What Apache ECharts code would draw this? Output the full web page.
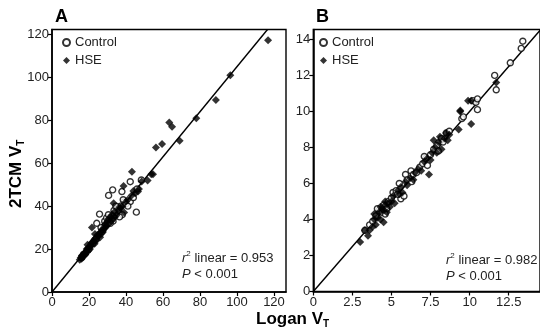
<!DOCTYPE html>
<html><head><meta charset="utf-8">
<script src="https://cdn.jsdelivr.net/npm/echarts@6/dist/echarts.min.js"></script>
<style>html,body{margin:0;padding:0;background:#fff}#c{width:540px;height:332px}</style>
</head><body><div id="c"></div>
<script>
// Panel A (Logan VT vs 2TCM VT)
var controlA = [[16,16],[17,17.5],[18,18],[19,19.5],[20,20],[21,22],[22,22.5],[23,24],[24,25],[24.2,32],[25.7,36.3],[26,27],[27,28],[28,30],[28.5,33],[29,31],[30,32],[30.6,45],[31,34],[32,35],[32.8,47.6],[33,33],[34,36],[35,37],[35.5,39],[36,38],[37,40],[37.8,46.8],[38,36],[39,42],[40,41],[42.3,42.1],[42.3,51.4],[45.6,37.2],[48.3,52.2],[46,48],[44,44],[33.5,38],[29.5,34.5],[27.5,29],[36.5,35],[31.5,32],[26.5,30],[30.5,36],[34.5,40],[38.5,43],[41,40]];
var hseA = [[15,15],[15.5,16],[16,15.5],[16.5,17],[17,16.5],[17.5,18],[18,17.5],[18.5,19],[19,18.5],[19.5,20],[20,21],[20.5,20],[21,21.5],[21.6,30],[22,23],[22.5,24],[23,22.5],[23.5,25],[24,24],[25,26],[25.5,27],[26,25.5],[27,29],[27.5,28],[28,29.5],[29,30],[29.5,31],[30,33],[31,32],[31.5,35],[32,33],[33,34],[33.3,41.4],[34,35],[35,36],[36,38],[37,39],[38,40],[38.7,49.4],[39,37],[40,42],[41,43],[43,45],[43.2,56],[44,47],[45,46],[46.5,46.8],[47,48],[48.5,51.5],[51.7,52],[53.7,54.9],[54.6,54.9],[56.2,67.3],[59.5,69],[63.4,79],[64.9,77],[69,70.5],[78,80.9],[88.6,89.4],[96.4,101],[116.8,117.3],[16.2,17],[18.8,20],[21.5,23],[24.5,26.5],[26.5,28],[28.5,31.5],[30.5,34],[32.5,36],[34,37.5],[36.5,39.5],[23.2,27],[19.2,22]];
var fitA = [[0,0],[116.5,122.3]];
var xTicksA = [0,20,40,60,80,100,120];
var yTicksA = [0,20,40,60,80,100,120];
// Panel B
var controlB = [[3.3,3.4],[3.6,3.7],[3.8,3.9],[4.0,4.2],[4.2,4.5],[4.4,4.4],[4.5,4.8],[4.7,4.6],[4.8,5.0],[5.0,5.2],[5.1,5.5],[5.3,5.6],[5.5,6.0],[5.6,5.15],[5.8,5.3],[5.9,6.5],[6.0,6.2],[6.25,6.7],[6.4,6.5],[6.6,6.6],[6.8,6.9],[7.0,7.1],[7.2,7.4],[7.3,7.0],[7.5,7.6],[7.7,7.9],[7.9,8.1],[8.0,7.8],[8.2,8.5],[8.3,8.3],[8.5,8.8],[8.7,8.9],[9.5,9.6],[9.6,9.7],[10.2,10.6],[10.4,10.5],[10.5,10.7],[10.5,10.1],[11.6,12.0],[11.7,11.2],[12.6,12.7],[13.3,13.5],[13.4,13.9],[6.3,6.1],[5.4,5.4],[4.6,4.3],[4.1,4.6],[7.1,7.5]];
var hseB = [[3.0,2.75],[3.3,3.4],[3.5,3.1],[3.6,3.4],[3.8,3.6],[3.9,4.0],[4.0,3.7],[4.1,4.1],[4.2,4.4],[4.3,4.0],[4.4,4.6],[4.5,3.85],[4.5,4.5],[4.6,4.8],[4.7,4.4],[4.8,4.9],[4.9,4.7],[5.0,5.0],[5.1,5.3],[5.2,4.9],[5.4,5.6],[5.5,5.4],[5.6,5.8],[5.7,5.5],[5.9,6.1],[6.0,5.9],[6.2,6.3],[6.4,6.2],[6.5,6.6],[6.7,6.8],[6.9,6.7],[7.1,7.2],[7.4,6.5],[7.3,7.4],[7.5,7.3],[7.6,7.7],[7.8,8.0],[7.9,7.7],[8.0,8.3],[8.1,8.6],[8.2,7.9],[8.4,8.5],[8.5,8.8],[8.6,8.4],[8.7,8.7],[9.3,9.0],[9.4,10.05],[9.4,10.0],[9.9,10.6],[10.1,10.6],[10.1,9.3],[11.7,11.6],[3.9,4.3],[4.3,4.7],[4.6,5.0],[7.7,8.4]];
var fitB = [[0,0],[14.6,14.6]];
var xTicksB = [0,2.5,5,7.5,10,12.5];
var yTicksB = [0,2,4,6,8,10,12,14];
var statsA = ['0.953','< 0.001'];
var statsB = ['0.982','< 0.001'];

var FONT = '"Liberation Sans", Arial, sans-serif';
var chart = echarts.init(document.getElementById('c'), null, {renderer:'canvas'});
function xAxis(idx, max, ticks){
  return {type:'value', gridIndex:idx, min:0, max:max,
    axisLine:{show:true, onZero:false, lineStyle:{color:'#000', width:1.6}},
    axisTick:{show:true, length:4, customValues:ticks, lineStyle:{color:'#000', width:1.2}},
    axisLabel:{customValues:ticks, color:'#222', fontSize:13, fontFamily:FONT, margin:4},
    splitLine:{show:false}};
}
function yAxis(idx, max, ticks){
  return {type:'value', gridIndex:idx, min:0, max:max,
    axisLine:{show:true, onZero:false, lineStyle:{color:'#000', width:1.6}},
    axisTick:{show:true, length:4, customValues:ticks, lineStyle:{color:'#000', width:1.2}},
    axisLabel:{customValues:ticks, color:'#222', fontSize:13, fontFamily:FONT, margin:3},
    splitLine:{show:false}};
}
var circ = {symbol:'circle', symbolSize:6, itemStyle:{color:'#fff', borderColor:'#000', borderWidth:1.4}};
var diam = {symbol:'diamond', symbolSize:8, itemStyle:{color:'#000', borderColor:'#000', borderWidth:0}};
function sc(name, data, idx, st){
  return Object.assign({type:'scatter', name:name, data:data, xAxisIndex:idx, yAxisIndex:idx, z:3, silent:true, animation:false}, JSON.parse(JSON.stringify(st)));
}
function fit(data, idx){
  return {type:'line', data:data, xAxisIndex:idx, yAxisIndex:idx, symbol:'none', lineStyle:{color:'#000', width:1.4}, clip:true, silent:true, animation:false, z:2};
}
function stats(x, y, s){
  return {type:'text', left:x, top:y, style:{text:'{i|r}{sup|2}{n| linear = '+s[0]+'}\n{i|P}{n| '+s[1]+'}', rich:{
    i:{fontStyle:'italic', fontSize:13, fontFamily:FONT, fill:'#222', lineHeight:16},
    sup:{fontSize:8, fontFamily:FONT, fill:'#222', verticalAlign:'top', lineHeight:16, padding:[0,0,6,0]},
    n:{fontSize:13, fontFamily:FONT, fill:'#222', lineHeight:16}}}};
}
var legStyle = {color:'#222', fontSize:13, fontFamily:FONT};
chart.setOption({
  animation:false,
  grid:[
    {left:52, top:29.5, width:234, height:262.5, show:true, borderColor:'#000', borderWidth:1.4, backgroundColor:'transparent'},
    {left:313.3, top:29.5, width:232, height:262, show:true, borderColor:'#000', borderWidth:1.4, backgroundColor:'transparent'}
  ],
  xAxis:[xAxis(0, 126.5, xTicksA), xAxis(1, 14.5, xTicksB)],
  yAxis:[yAxis(0, 122.3, yTicksA), yAxis(1, 14.55, yTicksB)],
  legend:[
    {data:['Control','HSE'], orient:'vertical', left:62, top:36, itemWidth:7, itemHeight:7, itemGap:5, textStyle:legStyle, selectedMode:false, padding:0},
    {data:['Control ','HSE '], orient:'vertical', left:319, top:36, itemWidth:7, itemHeight:7, itemGap:5, textStyle:legStyle, selectedMode:false, padding:0}
  ],
  series:[
    fit(fitA, 0), fit(fitB, 1),
    sc('Control', controlA, 0, circ), sc('HSE', hseA, 0, diam),
    sc('Control ', controlB, 1, circ), sc('HSE ', hseB, 1, diam)
  ],
  graphic:[
    {type:'text', left:55, top:8, style:{text:'A', font:'bold 18px '+FONT, fill:'#000'}},
    {type:'text', left:316, top:8, style:{text:'B', font:'bold 18px '+FONT, fill:'#000'}},
    stats(182, 250, statsA),
    stats(446, 252, statsB),
    {type:'text', x:6, y:208, rotation:Math.PI/2, style:{text:'{b|2TCM V}{s|T}', rich:{
      b:{fontWeight:'bold', fontSize:17, fontFamily:FONT, fill:'#000'},
      s:{fontWeight:'bold', fontSize:10, fontFamily:FONT, fill:'#000', padding:[10,0,0,0]}}}},
    {type:'text', left:256, top:311, style:{text:'{b|Logan V}{s|T}', rich:{
      b:{fontWeight:'bold', fontSize:17, fontFamily:FONT, fill:'#000'},
      s:{fontWeight:'bold', fontSize:10, fontFamily:FONT, fill:'#000', padding:[10,0,0,0]}}}}
  ]
});
</script></body></html>
